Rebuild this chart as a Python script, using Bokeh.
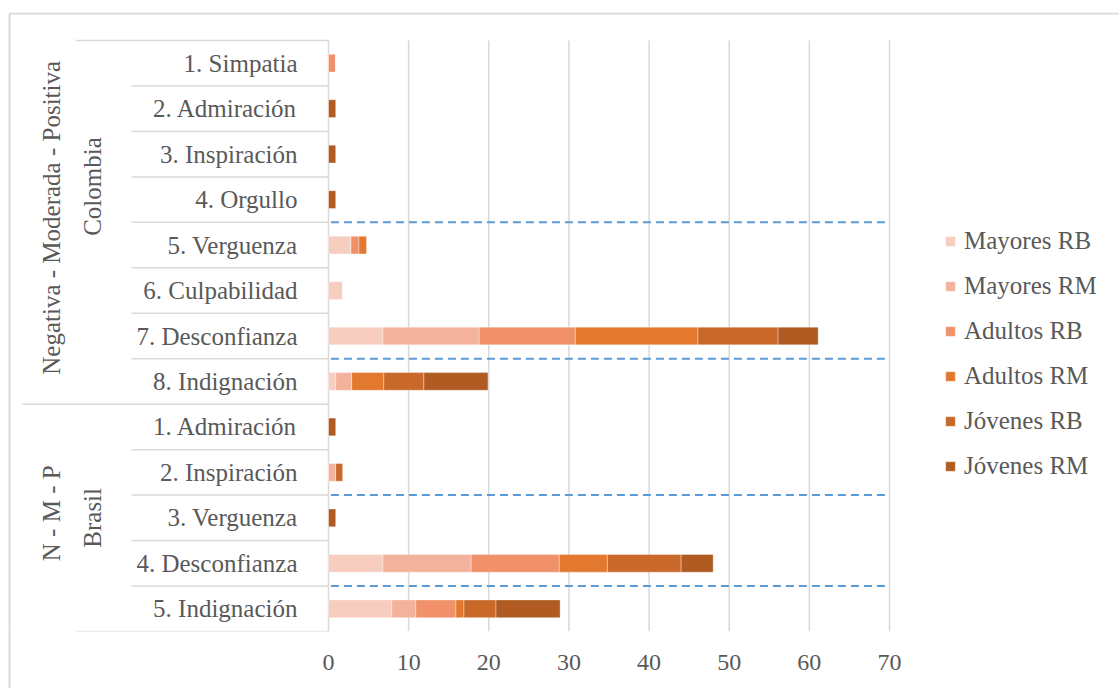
import math
from bokeh.plotting import figure
from bokeh.models import ColumnDataSource, Range1d, FixedTicker, Legend, LegendItem
from bokeh.core.properties import value
from bokeh.embed import file_html
from bokeh.resources import INLINE

# ---------------- data ----------------
colombia_emotions = ["1. Simpatia", "2. Admiración", "3. Inspiración", "4. Orgullo",
                     "5. Verguenza", "6. Culpabilidad", "7. Desconfianza", "8. Indignación"]
brasil_emotions = ["1. Admiración", "2. Inspiración", "3. Verguenza",
                   "4. Desconfianza", "5. Indignación"]
countries = ["Colombia", "Brasil"]
valence_labels = ["Negativa - Moderada - Positiva", "N - M - P"]
# rows per valence level (positiva, moderada, negativa) in each country
colombia_valence_counts = [4, 3, 1]
brasil_valence_counts = [2, 2, 1]

series = ["Mayores RB", "Mayores RM", "Adultos RB", "Adultos RM", "Jóvenes RB", "Jóvenes RM"]
colors = ["#F7CDBF", "#F3B29B", "#F0916A", "#E2792F", "#C8692A", "#B05B22"]

#               Colombia (8 rows)                              Brasil (5 rows)
mayores_rb = [0, 0, 0, 0, 2.8, 1.8, 6.8, 0.9,                  0, 0, 0, 6.8, 7.9]
mayores_rm = [0, 0, 0, 0, 0, 0, 12, 2,                         0, 0.9, 0, 11, 3]
adultos_rb = [0.9, 0, 0, 0, 1, 0, 12, 0,                       0, 0, 0, 11, 5]
adultos_rm = [0, 0, 0, 0, 1, 0, 15.3, 4,                       0, 0, 0, 6, 1]
jovenes_rb = [0, 0, 0, 0, 0, 0, 10, 5,                         0, 0.9, 0, 9.2, 4]
jovenes_rm = [0, 0.9, 0.9, 0.9, 0, 0, 5, 8,                    0.9, 0, 0.9, 4, 8]

x_ticks = [0, 10, 20, 30, 40, 50, 60, 70]

# ---------------- layout helpers ----------------
W, H = 1119, 688
BORDER_TOP, BORDER_LEFT = 12, 9
ROWS_TOP, ROWS_BOTTOM = 40, 631
FONT = "'Liberation Serif', 'Times New Roman', 'DejaVu Serif', serif"
TXT = "#595959"
GRID = "#D9D9D9"
X0_PAGE, X70_PAGE = 328, 889
scale = (X70_PAGE - X0_PAGE) / 70.0
x_start = -X0_PAGE / scale
x_end = 70 + (W - X70_PAGE) / scale


def px(page_x):
    return (page_x - X0_PAGE) / scale


rows = colombia_emotions + brasil_emotions
n = len(rows)
ys = [i + 0.5 for i in range(n)]
row_h = (ROWS_BOTTOM - ROWS_TOP) / n


def py(page_y):
    return (page_y - ROWS_TOP) / row_h


y_top = py(BORDER_TOP)

source = ColumnDataSource(dict(
    y=ys, label=rows,
    **{series[0]: mayores_rb, series[1]: mayores_rm, series[2]: adultos_rb,
       series[3]: adultos_rm, series[4]: jovenes_rb, series[5]: jovenes_rm}))

p = figure(width=W, height=H, output_backend="svg", toolbar_location=None,
           x_range=Range1d(x_start, x_end), y_range=Range1d(n, y_top),
           y_axis_location=None,
           min_border_left=0, min_border_right=0,
           min_border_top=BORDER_TOP, min_border_bottom=H - ROWS_BOTTOM)
p.outline_line_color = None
p.background_fill_color = "white"
p.border_fill_color = "white"
p.xgrid.grid_line_color = None
p.ygrid.grid_line_color = None

# vertical gridlines limited to the category rows
p.segment(x0=x_ticks, x1=x_ticks, y0=[0] * len(x_ticks), y1=[n] * len(x_ticks),
          line_color=GRID, line_width=1.5)

# x axis (its single minor tick continues the chart's left border below the rows)
tick_len = H - ROWS_BOTTOM + 5
p.xaxis.ticker = FixedTicker(ticks=x_ticks, minor_ticks=[px(BORDER_LEFT)])
p.xaxis.axis_line_color = None
p.xaxis.major_tick_line_color = None
p.xaxis.major_tick_out = 0
p.xaxis.major_tick_in = 0
p.xaxis.minor_tick_line_color = GRID
p.xaxis.minor_tick_line_width = 2
p.xaxis.minor_tick_in = 0
p.xaxis.minor_tick_out = tick_len
p.xaxis.major_label_standoff = 23 - tick_len
p.xaxis.major_label_text_font = FONT
p.xaxis.major_label_text_font_size = "24px"
p.xaxis.major_label_text_color = TXT

# bars
renderers = p.hbar_stack(series, y="y", height=0.39, color=colors, source=source,
                         line_color="white", line_width=0.6, line_alpha=0.6)

# valence separators (dashed)
bounds = []
off = 0
for counts in (colombia_valence_counts, brasil_valence_counts):
    c = off
    for k in counts[:-1]:
        c += k
        bounds.append(c)
    off += sum(counts)
p.segment(x0=[0.3] * len(bounds), x1=[69.5] * len(bounds), y0=bounds, y1=bounds,
          line_color="#5B9BD5", line_width=2, line_dash="8 5")

# category table lines
seg_x0, seg_y = [], []
group_sizes = [len(colombia_emotions), len(brasil_emotions)]
starts = [0, group_sizes[0]]
for st, sz in zip(starts, group_sizes):
    for k in range(1, sz):
        seg_x0.append(px(131)); seg_y.append(st + k)
seg_x0 += [px(75), px(22), px(75)]
seg_y += [0, group_sizes[0], n]
p.segment(x0=seg_x0, x1=[0] * len(seg_x0), y0=seg_y, y1=seg_y,
          line_color=GRID, line_width=1.5)

# chart border (top and left edges; others lie outside the window)
p.segment(x0=[px(BORDER_LEFT), px(BORDER_LEFT)], x1=[x_end, px(BORDER_LEFT)],
          y0=[py(BORDER_TOP + 1), py(BORDER_TOP + 1)], y1=[py(BORDER_TOP + 1), n],
          line_color=GRID, line_width=2)

# row labels
p.text(x=0, y="y", text="label", source=source, x_offset=-31,
       text_align="right", text_baseline="middle",
       text_font=value(FONT), text_font_size="25px", text_color=TXT)

# group labels (vertical)
country_y = [py(186), (starts[1] + n) / 2]
p.text(x=[px(92)] * 2, y=country_y, text=countries, angle=math.pi / 2,
       text_align="center", text_baseline="middle",
       text_font=value(FONT), text_font_size="25px", text_color=TXT)
valence_y = [group_sizes[0] / 2 - 0.1, (starts[1] + n) / 2 - 0.1]
p.text(x=[px(51)] * 2, y=valence_y, text=valence_labels, angle=math.pi / 2,
       text_align="center", text_baseline="middle",
       text_font=value(FONT), text_font_size="25px", text_color=TXT)

# legend (location measured from the bottom-left of the frame)
legend = Legend(items=[LegendItem(label=s, renderers=[r]) for s, r in zip(series, renderers)],
                location=(944, ROWS_BOTTOM - (226 + 255)),
                orientation="vertical",
                glyph_width=12, glyph_height=12, label_height=30, spacing=15,
                padding=0, margin=0, label_standoff=8,
                label_text_font=FONT, label_text_font_size="25px", label_text_color=TXT,
                border_line_color=None, background_fill_alpha=0)
p.add_layout(legend)

open("out.html", "w").write(file_html(p, INLINE))
